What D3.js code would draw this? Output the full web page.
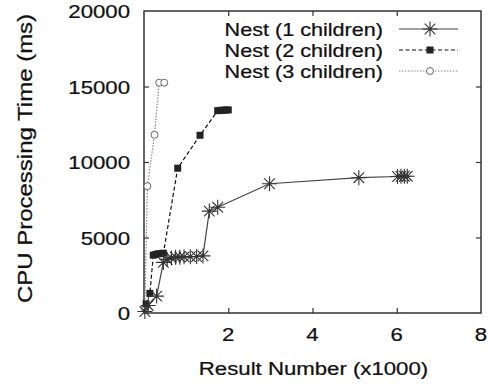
<!DOCTYPE html>
<html>
<head>
<meta charset="utf-8">
<script src="https://cdn.jsdelivr.net/npm/d3@7"></script>
<style>
  body { margin: 0; background: #fff; }
  text { font-family: "Liberation Sans", Arial, sans-serif; fill: #111; stroke: #111; stroke-width: 0.25px; }
</style>
</head>
<body>
<svg id="chart"></svg>
<script>
// result number (x1000) and CPU time (ms) for each series
const nest1X = [0.02, 0.1, 0.3, 0.46, 0.55, 0.65, 0.75, 0.85, 0.95, 1.1, 1.25, 1.4, 1.55, 1.75, 2.98, 5.1, 6.02, 6.1, 6.18, 6.25];
const nest1Y = [100, 500, 1120, 3350, 3550, 3650, 3700, 3700, 3720, 3730, 3740, 3780, 6750, 7000, 8560, 8960, 9040, 9050, 9060, 9060];
const nest2X = [0.05, 0.14, 0.22, 0.28, 0.34, 0.4, 0.46, 0.8, 1.33, 1.75, 1.82, 1.88, 1.94, 2.0];
const nest2Y = [600, 1300, 3830, 3880, 3920, 3940, 3960, 9590, 11770, 13400, 13420, 13430, 13440, 13450];
const nest3X = [0.02, 0.08, 0.25, 0.36, 0.48];
const nest3Y = [300, 8400, 11800, 15250, 15250];
const seriesNames = ['Nest (1 children)', 'Nest (2 children)', 'Nest (3 children)'];
const xTicks = [2, 4, 6, 8];
const yTicks = [0, 5000, 10000, 15000, 20000];

const W = 488, H = 387;
const margin = { left: 144, right: 7, top: 11, bottom: 74 };
const FS = 18.5, STRETCH = 1.2; // the original type is a bit wide

const svg = d3.select('#chart').attr('width', W).attr('height', H);

const x = d3.scaleLinear().domain([0, 8]).range([margin.left, W - margin.right]);
const y = d3.scaleLinear().domain([0, 20000]).range([H - margin.bottom, margin.top]);

const series = [
  { name: seriesNames[0], xs: nest1X, ys: nest1Y, color: '#444', dash: null, width: 1.2, marker: 'star' },
  { name: seriesNames[1], xs: nest2X, ys: nest2Y, color: '#111', dash: '4,2.5', width: 1.2, marker: 'square' },
  { name: seriesNames[2], xs: nest3X, ys: nest3Y, color: '#888', dash: '1.5,1.5', width: 1.2, marker: 'circle' }
];

function label(str, tx, ty, anchor, rot, size) {
  return svg.append('text')
    .attr('transform', `translate(${tx},${ty})${rot ? ` rotate(${rot})` : ''} scale(${STRETCH},1)`)
    .attr('text-anchor', anchor)
    .style('font-size', (size || FS) + 'px')
    .text(str);
}

// frame
svg.append('rect')
  .attr('x', x(0)).attr('y', y(20000))
  .attr('width', x(8) - x(0)).attr('height', y(0) - y(20000))
  .attr('fill', 'none').attr('stroke', '#333').attr('stroke-width', 1.5);

// inward ticks on all sides, labels drawn separately
const axBottom = svg.append('g').attr('transform', `translate(0,${y(0)})`)
  .call(d3.axisBottom(x).tickValues(xTicks.slice(0, 3)).tickSizeInner(-5).tickSizeOuter(0).tickFormat(''));
const axLeft = svg.append('g').attr('transform', `translate(${x(0)},0)`)
  .call(d3.axisLeft(y).tickValues(yTicks.slice(1, 4)).tickSizeInner(-5).tickSizeOuter(0).tickFormat(''));
const axTop = svg.append('g').attr('transform', `translate(0,${y(20000)})`)
  .call(d3.axisTop(x).tickValues(xTicks.slice(0, 3)).tickSizeInner(-5).tickSizeOuter(0).tickFormat(''));
const axRight = svg.append('g').attr('transform', `translate(${x(8)},0)`)
  .call(d3.axisRight(y).tickValues(yTicks.slice(1, 4)).tickSizeInner(-5).tickSizeOuter(0).tickFormat(''));

[axBottom, axLeft, axTop, axRight].forEach(g => {
  g.select('.domain').remove();
  g.selectAll('.tick line').attr('stroke', '#333').attr('stroke-width', 1.2);
});

xTicks.forEach(t => label(String(t), x(t), 341, 'middle'));
yTicks.forEach(t => label(String(t), 130, y(t) + 7, 'end'));

// axis titles
label('CPU Processing Time (ms)', 31.5, 158.5, 'middle', -90, 20);
label('Result Number (x1000)', (x(0) + x(8)) / 2 + 1, 375, 'middle');

function drawMarker(g, type, cx, cy, color) {
  if (type === 'star') {
    const r = 7.5, d = 5.3;
    const p = `M${cx - r},${cy}L${cx + r},${cy}M${cx},${cy - r}L${cx},${cy + r}` +
      `M${cx - d},${cy - d}L${cx + d},${cy + d}M${cx - d},${cy + d}L${cx + d},${cy - d}`;
    g.append('path').attr('d', p).attr('stroke', color).attr('stroke-width', 1.1).attr('fill', 'none');
  } else if (type === 'square') {
    g.append('rect').attr('x', cx - 3.5).attr('y', cy - 3.5).attr('width', 7).attr('height', 7)
      .attr('fill', '#222');
  } else {
    g.append('circle').attr('cx', cx).attr('cy', cy).attr('r', 3.5)
      .attr('fill', '#fff').attr('stroke', '#666').attr('stroke-width', 1);
  }
}

const line = d3.line().x(d => x(d[0])).y(d => y(d[1]));

series.slice().reverse().forEach(s => {
  const pts = s.xs.map((v, i) => [v, s.ys[i]]);
  const g = svg.append('g');
  g.append('path').datum(pts).attr('d', line)
    .attr('fill', 'none').attr('stroke', s.color).attr('stroke-width', s.width)
    .attr('stroke-dasharray', s.dash);
  pts.forEach(p => drawMarker(g, s.marker, x(p[0]), y(p[1]), s.marker === 'star' ? '#333' : s.color));
});

// legend
series.forEach((s, i) => {
  const ly = 29 + i * 21;
  label(s.name, 383, ly + 6.5, 'end', 0, 18);
  svg.append('line').attr('x1', 399).attr('x2', 458).attr('y1', ly).attr('y2', ly)
    .attr('stroke', s.color).attr('stroke-width', s.width).attr('stroke-dasharray', s.dash);
  drawMarker(svg, s.marker, 430, ly, s.marker === 'star' ? '#333' : s.color);
});
</script>
</body>
</html>
